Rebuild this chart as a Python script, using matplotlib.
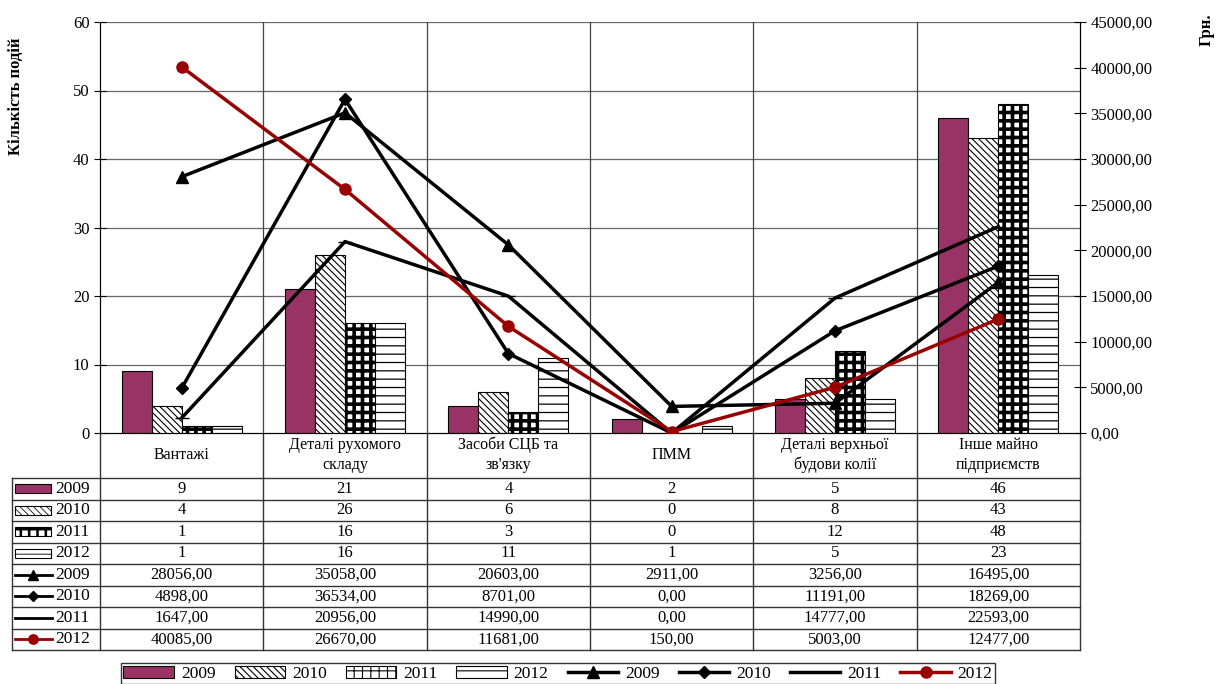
import numpy as np
import matplotlib.pyplot as plt
from matplotlib.patches import Rectangle

plt.rcParams['font.family'] = ['Liberation Serif', 'DejaVu Serif']
plt.rcParams['hatch.linewidth'] = 0.8

# дані
categories = ["Вантажі", "Деталі рухомого\nскладу", "Засоби СЦБ та\nзв'язку",
              "ПММ", "Деталі верхньої\nбудови колії", "Інше майно\nпідприємств"]
years = ["2009", "2010", "2011", "2012"]
count_2009 = [9, 21, 4, 2, 5, 46]
count_2010 = [4, 26, 6, 0, 8, 43]
count_2011 = [1, 16, 3, 0, 12, 48]
count_2012 = [1, 16, 11, 1, 5, 23]
uah_2009 = [28056.00, 35058.00, 20603.00, 2911.00, 3256.00, 16495.00]
uah_2010 = [4898.00, 36534.00, 8701.00, 0.00, 11191.00, 18269.00]
uah_2011 = [1647.00, 20956.00, 14990.00, 0.00, 14777.00, 22593.00]
uah_2012 = [40085.00, 26670.00, 11681.00, 150.00, 5003.00, 12477.00]

counts = [count_2009, count_2010, count_2011, count_2012]
uahs = [uah_2009, uah_2010, uah_2011, uah_2012]

# стилі
bar_styles = [dict(facecolor='#993366', hatch=None),
              dict(facecolor='white', hatch='\\\\\\\\\\'),
              dict(facecolor='white', hatch='++'),
              dict(facecolor='white', hatch='--')]
hatch_lw = [0.8, 0.8, 2.6, 0.9]
line_styles = [dict(color='black', marker='^', ms=9),
               dict(color='black', marker='D', ms=6),
               dict(color='black', marker='_', ms=10),
               dict(color='#990000', marker='o', ms=8)]

def fmt(v):
    return f"{v:.2f}".replace('.', ',')

W, H = 1220, 684
L, R, T, B = 100, 1080, 22, 433
fig = plt.figure(figsize=(W / 100, H / 100), dpi=100)
ax = fig.add_axes([L / W, 1 - B / H, (R - L) / W, (B - T) / H])

n = len(categories)
bw = 0.184
bars = []
for k in range(4):
    plt.rcParams['hatch.linewidth'] = hatch_lw[k]
    x = np.arange(n) + 0.5 + (k - 1.5) * bw
    bc = ax.bar(x, counts[k], width=bw, edgecolor='black', linewidth=0.8,
                zorder=3, label=years[k], **bar_styles[k])
    bars.append(bc)
ax.set_xlim(0, n)
ax.set_ylim(0, 60)
ax.set_yticks(range(0, 61, 10))
ax.set_xticks([])
for y in range(10, 61, 10):
    ax.axhline(y, color='#666666', lw=0.9, zorder=1)
for i in range(1, n):
    ax.axvline(i, color='#444444', lw=0.9, zorder=1)
ax.spines['top'].set_visible(False)
ax.tick_params(axis='y', direction='inout', length=8, labelsize=12)
ax.set_ylabel("Кількість подій", fontweight='bold', fontsize=12)
ax.yaxis.set_label_coords(-0.078, 0.82)

ax2 = ax.twinx()
lines = []
for k in range(4):
    ln, = ax2.plot(np.arange(n) + 0.5, uahs[k], lw=2.5, zorder=4,
                   label=years[k], **line_styles[k])
    lines.append(ln)
ax2.set_ylim(0, 45000)
ax2.set_yticks(range(0, 45001, 5000))
ax2.set_yticklabels([fmt(v) for v in range(0, 45001, 5000)])
ax2.tick_params(axis='y', direction='inout', length=8, labelsize=12)
ax2.spines['top'].set_visible(False)
fig.text(1207 / W, 1 - 30 / H, "Грн.", rotation=90, fontweight='bold',
         fontsize=12, ha='center', va='center')

# таблиця даних
plt.rcParams['hatch.linewidth'] = 0.8
tab = fig.add_axes([0, 0, 1, 1], zorder=-1)
tab.set_xlim(0, W)
tab.set_ylim(H, 0)
tab.axis('off')
cw = (R - L) / n
row_top = 478
rh = 21.5
nrows = 8
bottom = row_top + nrows * rh
for i in range(n + 1):
    tab.plot([L + i * cw, L + i * cw], [B, bottom], color='#333333', lw=1)
tab.plot([12, 12], [row_top, bottom], color='#333333', lw=1)
for r in range(nrows + 1):
    tab.plot([12, R], [row_top + r * rh] * 2, color='#333333', lw=1)
for i, c in enumerate(categories):
    tab.text(L + (i + 0.5) * cw, 455, c, ha='center', va='center', fontsize=11.5,
             linespacing=1.3)

rows = [(counts[k], 'bar', k) for k in range(4)] + [(uahs[k], 'line', k) for k in range(4)]
for r, (vals, kind, k) in enumerate(rows):
    yc = row_top + (r + 0.5) * rh
    if kind == 'bar':
        plt.rcParams['hatch.linewidth'] = hatch_lw[k] * 0.7
        tab.add_patch(Rectangle((15, yc - 4.5), 36, 9, edgecolor='black', lw=0.8,
                                **bar_styles[k]))
        labels = [str(v) for v in vals]
    else:
        st = line_styles[k]
        tab.plot([15, 52], [yc, yc], color=st['color'], lw=2)
        tab.plot([33], [yc], color=st['color'], marker=st['marker'],
                 ms=st['ms'] * 0.85)
        labels = [fmt(v) for v in vals]
    tab.text(55, yc, years[k], va='center', ha='left', fontsize=12.5)
    for i, s in enumerate(labels):
        tab.text(L + (i + 0.5) * cw, yc, s, ha='center', va='center', fontsize=12)

plt.rcParams['hatch.linewidth'] = 0.8
handles = bars + lines
fig.legend(handles, years + years, ncol=8, loc='upper center',
           bbox_to_anchor=(558 / W, 1 - 663 / H), borderaxespad=0,
           frameon=True, fancybox=False, edgecolor='black', fontsize=12.5,
           handlelength=2.9, columnspacing=1.1, borderpad=0.15,
           handletextpad=0.4)

fig.savefig("out.png", dpi=100)
